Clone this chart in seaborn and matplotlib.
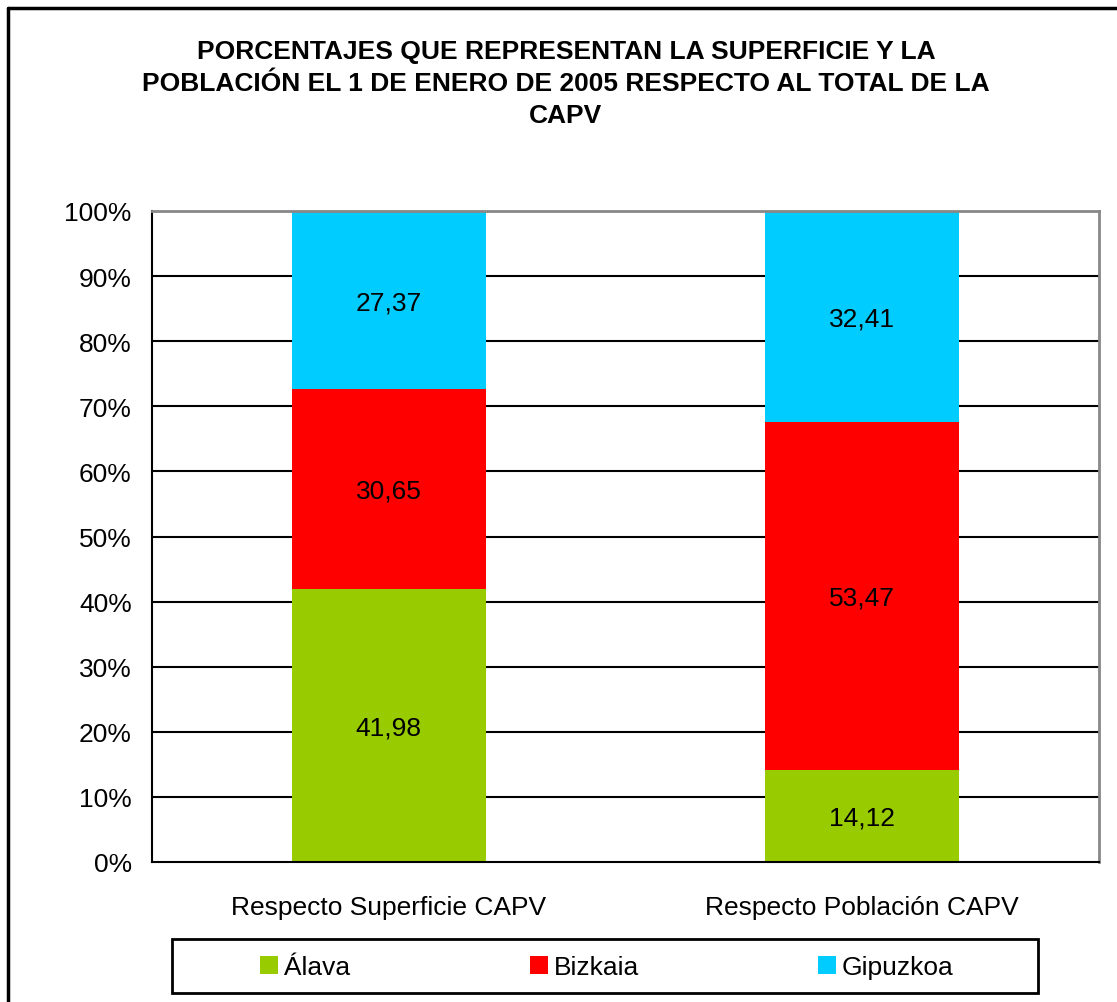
import numpy as np
import pandas as pd
import matplotlib.pyplot as plt
import seaborn as sns
from matplotlib.lines import Line2D
from matplotlib.patches import Patch, Rectangle

categories = ['Respecto Superficie CAPV', 'Respecto Población CAPV']
series = ['Álava', 'Bizkaia', 'Gipuzkoa']
alava = [41.98, 14.12]
bizkaia = [30.65, 53.47]
gipuzkoa = [27.37, 32.41]
colors = ['#99cc00', '#ff0000', '#00ccff']
title = ('PORCENTAJES QUE REPRESENTAN LA SUPERFICIE Y LA\n'
         'POBLACIÓN EL 1 DE ENERO DE 2005 RESPECTO AL TOTAL DE LA\nCAPV')

sns.set_style('white')
plt.rcParams['font.family'] = ['Liberation Sans', 'DejaVu Sans']
plt.rcParams['text.color'] = 'black'
plt.rcParams['xtick.color'] = 'black'
plt.rcParams['ytick.color'] = 'black'
plt.rcParams['xtick.labelcolor'] = 'black'
plt.rcParams['ytick.labelcolor'] = 'black'

df = pd.DataFrame({'cat': categories, 'Álava': alava,
                   'Bizkaia': bizkaia, 'Gipuzkoa': gipuzkoa})
vals = df[series].to_numpy()
cum = np.cumsum(vals, axis=1)
for i, s in enumerate(series):
    df['cum_' + s] = cum[:, i]

W, H = 1117, 1003
fs = 19
fig = plt.figure(figsize=(W / 100, H / 100), dpi=100)
ax = fig.add_axes([152 / W, 1 - 863 / H, (1099 - 152) / W, (863 - 212) / H])

# draw from the top segment down so each lower series covers the rest
for i in reversed(range(len(series))):
    sns.barplot(data=df, x='cat', y='cum_' + series[i], color=colors[i],
                width=0.41, ax=ax, saturation=1, zorder=3, linewidth=0)

for j in range(len(categories)):
    base = 0
    for i in range(len(series)):
        v = vals[j, i]
        ax.text(j, base + v / 2 - 0.3, f'{v:.2f}'.replace('.', ','), ha='center',
                va='center', fontsize=fs, zorder=5)
        base += v

ax.set_xlim(-0.5, 1.5)
ax.set_ylim(0, 100)
ax.set_yticks(np.arange(0, 101, 10))
ax.set_yticklabels([f'{t}%' for t in range(0, 101, 10)], fontsize=fs)
ax.set_xticks([0, 1])
ax.set_xticklabels(categories, fontsize=fs)
ax.set_xticks([-0.5, 0.5, 1.5], minor=True)
ax.tick_params(axis='x', which='major', length=0, pad=24)
ax.tick_params(axis='x', which='minor', length=6.5, width=1.5, direction='out')
ax.tick_params(axis='y', length=6.5, width=1.5, direction='out', pad=8)
ax.set_xlabel('')
ax.set_ylabel('')
for y in range(10, 100, 10):
    ax.axhline(y, color='black', lw=1.5, zorder=1)
ax.spines['left'].set_color('black')
ax.spines['bottom'].set_color('black')
ax.spines['left'].set_linewidth(1.5)
ax.spines['bottom'].set_linewidth(1.5)
ax.spines['top'].set_color('#888888')
ax.spines['right'].set_color('#888888')
ax.spines['top'].set_linewidth(2)
ax.spines['right'].set_linewidth(2)
for sp in ax.spines.values():
    sp.set_zorder(6)

fig.text(566 / W, 1 - 84 / H, title, ha='center', va='center',
         fontsize=fs, fontweight='bold', linespacing=1.42)

# legend: entries without frame, box drawn separately
handles = [Patch(facecolor=c, edgecolor='none') for c in colors]
leg = fig.legend(handles, series, loc='center',
                 bbox_to_anchor=(607 / W, 1 - 968 / H), ncol=3,
                 fontsize=fs, frameon=False,
                 handlelength=0.68, handleheight=0.68, handletextpad=0.22,
                 columnspacing=6.8, borderpad=0)
fig.add_artist(Rectangle((172 / W, 1 - 994 / H), (1038 - 172) / W, 54 / H,
                         transform=fig.transFigure, fill=False,
                         edgecolor='black', lw=2))

# outer chart border (only left and top are inside the picture)
fig.add_artist(Line2D([8 / W, 8 / W], [0, 1 - 9 / H], color='black', lw=2.5))
fig.add_artist(Line2D([8 / W, 1], [1 - 9 / H, 1 - 9 / H], color='black', lw=2.5))

fig.savefig('out.png', dpi=100)
